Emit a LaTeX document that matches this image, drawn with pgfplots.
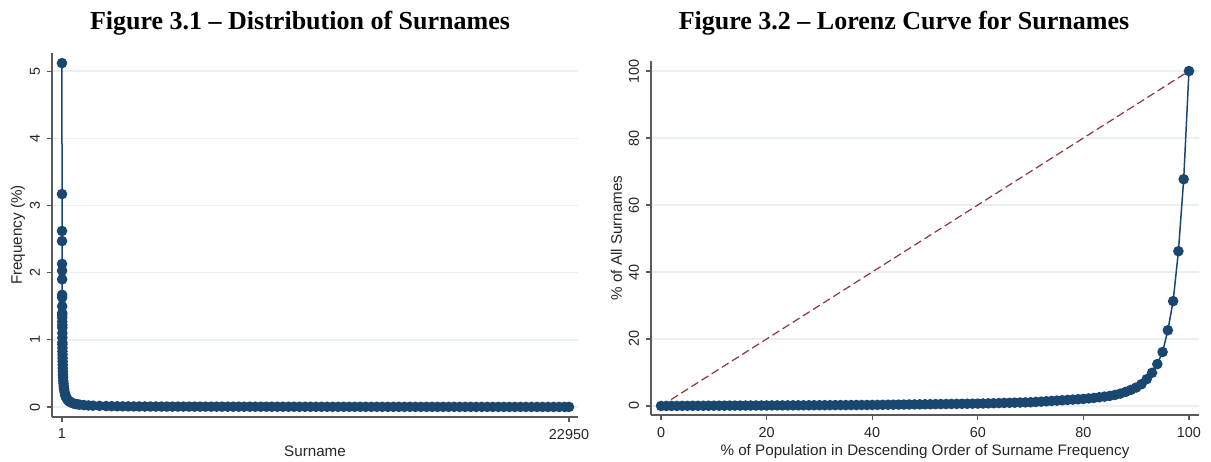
\documentclass[border=0pt]{standalone}
\usepackage{fontspec}
\setmainfont{Liberation Sans}
\newfontfamily\titlefont{Liberation Serif}
\usepackage{pgfplots}
\pgfplotsset{compat=1.18}
\definecolor{stnavy}{HTML}{1A476F}
\definecolor{stmaroon}{HTML}{90353B}
\definecolor{gridc}{HTML}{E8F0F2}
\definecolor{axc}{HTML}{5A5A5A}
\pgfplotsset{stata/.style={
  scale only axis, axis lines=left, axis line style={-, axc, line width=0.6pt},
  tick style={axc, line width=0.6pt}, major tick length=2.5pt, tick align=outside,
  ymajorgrids, grid style={gridc, line width=0.7pt},
  minor tick num=0, scaled ticks=false,
  tick label style={font=\fontsize{7.2}{8}\selectfont, text=black!85},
  yticklabel style={rotate=90, anchor=south},
  /pgf/number format/assume math mode=true,
  label style={font=\fontsize{7.6}{9}\selectfont, text=black!85},
  xlabel style={yshift=3.5pt},
  clip=false,
}}
\begin{document}
\begin{tikzpicture}
\useasboundingbox (0pt,0pt) rectangle (605.5pt,-230.5pt);
\node[font=\titlefont\bfseries\fontsize{13}{15}\selectfont, anchor=base] at (150pt,-14.5pt) {Figure 3.1 – Distribution of Surnames};
\node[font=\titlefont\bfseries\fontsize{13}{15}\selectfont, anchor=base] at (452pt,-14.5pt) {Figure 3.2 – Lorenz Curve for Surnames};
\begin{axis}[stata, at={(26pt,-208.5pt)}, anchor=south west, width=263pt, height=182pt,
  xmin=-451, xmax=23357, ymin=-0.149, ymax=5.27,
  xtick={1,22950}, xticklabels={1,22950}, ytick={0,1,2,3,4,5},
  xlabel={Surname}, ylabel={Frequency (\%)}, ylabel style={yshift=-4.5pt}]
\addplot[stnavy, line width=0.75pt, mark=*, mark size=2.25pt, mark options={fill=stnavy, draw=stnavy}] coordinates {
(1,5.12)(2,3.17)(3,2.62)(4,2.47)(5,2.13)(6,2.03)(7,1.90)(8,1.67)(9,1.63)(10,1.50)
(11,1.40)(12,1.37)(13,1.33)(14,1.27)(15,1.22)(16,1.18)(17,1.10)(18,1.03)(19,0.96)(20,0.93)
(22,0.88)(24,0.83)(26,0.78)(28,0.73)(30,0.68)(33,0.63)(36,0.58)(40,0.53)(45,0.48)(50,0.44)
(60,0.39)(70,0.35)(80,0.31)(90,0.28)(100,0.26)(120,0.22)(140,0.19)(160,0.17)(180,0.15)(200,0.135)
(250,0.11)(300,0.09)(350,0.08)(400,0.07)(500,0.055)(600,0.045)(700,0.04)(800,0.035)(1000,0.028)(1200,0.023)
(1400,0.020)(1700,0.017)(2000,0.014)(2250,0.012)(2500,0.011)(2750,0.010)(3000,0.009)(3250,0.0085)(3500,0.008)(3750,0.0075)
(4000,0.007)(4250,0.0068)(4500,0.0066)(4750,0.0064)(5000,0.0062)(5250,0.006)(5500,0.0058)(5750,0.0056)(6000,0.0054)(6250,0.0052)
(6500,0.005)(6750,0.0049)(7000,0.0048)(7250,0.0047)(7500,0.0046)(7750,0.0045)(8000,0.0044)(8250,0.0043)(8500,0.0042)(8750,0.0041)
(9000,0.004)(9250,0.0039)(9500,0.0038)(9750,0.0037)(10000,0.0036)(10250,0.0035)(10500,0.0034)(10750,0.0033)(11000,0.0032)(11250,0.0031)
(11500,0.003)(11750,0.003)(12000,0.0029)(12250,0.0029)(12500,0.0028)(12750,0.0028)(13000,0.0027)(13250,0.0027)(13500,0.0026)(13750,0.0026)
(14000,0.0025)(14250,0.0025)(14500,0.0024)(14750,0.0024)(15000,0.0023)(15250,0.0023)(15500,0.0022)(15750,0.0022)(16000,0.0021)(16250,0.0021)
(16500,0.002)(16750,0.002)(17000,0.0019)(17250,0.0019)(17500,0.0018)(17750,0.0018)(18000,0.0017)(18250,0.0017)(18500,0.0016)(18750,0.0016)
(19000,0.0015)(19250,0.0015)(19500,0.0014)(19750,0.0014)(20000,0.0013)(20250,0.0013)(20500,0.0012)(20750,0.0012)(21000,0.0011)(21250,0.0011)
(21500,0.0011)(21750,0.001)(22000,0.001)(22250,0.001)(22500,0.001)(22750,0.001)(22950,0.001)
};
\end{axis}
\begin{axis}[stata, at={(325.5pt,-207.5pt)}, anchor=south west, width=274pt, height=177pt,
  xmin=-1.9, xmax=101.9, ymin=-2.7, ymax=103,
  xtick={0,20,40,60,80,100}, ytick={0,20,40,60,80,100},
  xlabel={\% of Population in Descending Order of Surname Frequency}, ylabel={\% of All Surnames}, ylabel style={yshift=-3.5pt}]
\addplot[stmaroon, line width=0.6pt, dash pattern=on 4pt off 2pt] coordinates {(0,0)(100,100)};
\addplot[stnavy, line width=0.75pt, mark=*, mark size=2.25pt, mark options={fill=stnavy, draw=stnavy}] coordinates {
(0,0)(1,0.01)(2,0.02)(3,0.02)(4,0.03)(5,0.04)(6,0.05)(7,0.05)(8,0.06)(9,0.07)
(10,0.08)(11,0.08)(12,0.09)(13,0.10)(14,0.11)(15,0.11)(16,0.12)(17,0.13)(18,0.14)(19,0.14)
(20,0.15)(21,0.16)(22,0.17)(23,0.17)(24,0.18)(25,0.19)(26,0.20)(27,0.20)(28,0.21)(29,0.22)
(30,0.23)(31,0.23)(32,0.24)(33,0.25)(34,0.26)(35,0.26)(36,0.27)(37,0.28)(38,0.29)(39,0.29)
(40,0.30)(41,0.32)(42,0.34)(43,0.36)(44,0.38)(45,0.40)(46,0.42)(47,0.44)(48,0.46)(49,0.48)
(50,0.50)(51,0.52)(52,0.54)(53,0.56)(54,0.58)(55,0.60)(56,0.62)(57,0.64)(58,0.66)(59,0.68)
(60,0.70)(61,0.74)(62,0.78)(63,0.82)(64,0.86)(65,0.90)(66,0.94)(67,0.98)(68,1.02)(69,1.06)
(70,1.10)(71,1.20)(72,1.30)(73,1.40)(74,1.50)(75,1.60)(76,1.70)(77,1.80)(78,1.90)(79,2.00)
(80,2.10)(81,2.25)(82,2.40)(83,2.60)(84,2.80)(85,3.00)(86,3.30)(87,3.70)(88,4.20)(89,4.80)
(90,5.50)(91,6.50)(92,8.00)(93,9.90)(94,12.5)(95,16.1)(96,22.6)(97,31.3)(98,46.2)(99,67.7)
(100,100)
};
\end{axis}
\end{tikzpicture}
\end{document}
